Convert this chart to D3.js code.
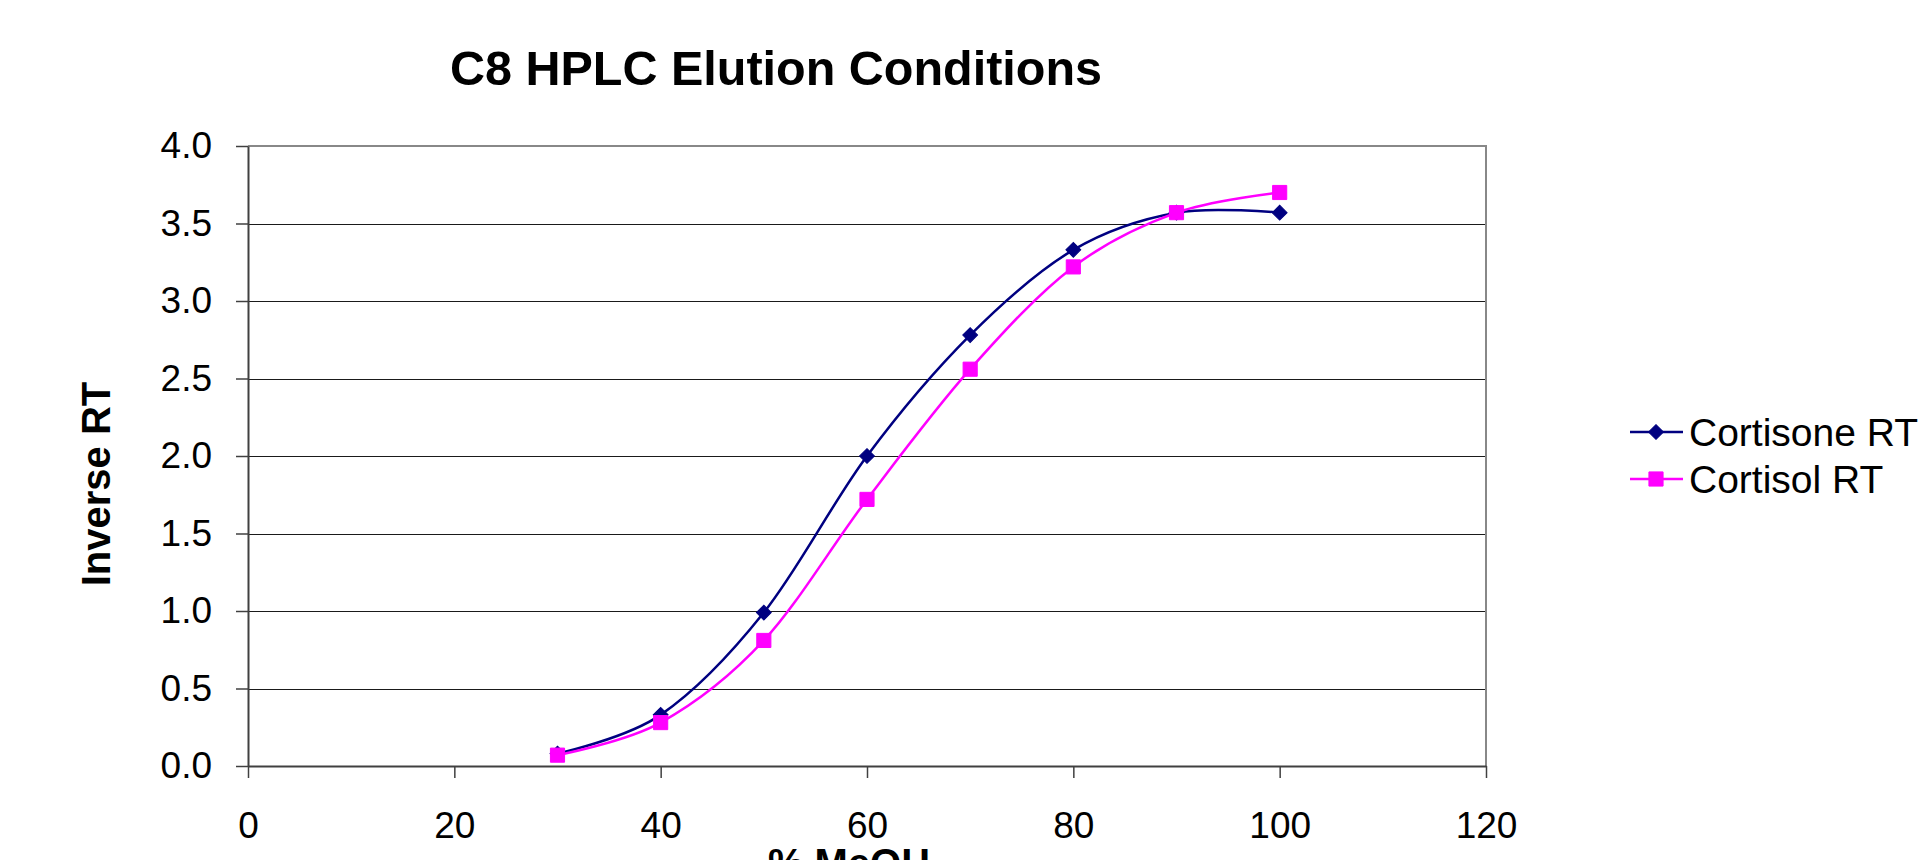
<!DOCTYPE html>
<html>
<head>
<meta charset="utf-8">
<script src="https://cdn.jsdelivr.net/npm/d3@7"></script>
<style>
  html, body { margin: 0; padding: 0; background: #fff; overflow: hidden; }
  svg { display: block; font-family: "Liberation Sans", Arial, sans-serif; }
</style>
</head>
<body>
<svg id="chart" width="1919" height="860"></svg>
<script>
// ---- data ----
const title = "C8 HPLC Elution Conditions";
const xLabel = "% MeOH";
const yLabel = "Inverse RT";
const meohPercent = [30, 40, 50, 60, 70, 80, 90, 100];
const cortisoneRT = [0.08, 0.33, 0.99, 2.00, 2.78, 3.33, 3.57, 3.57];
const cortisolRT  = [0.07, 0.28, 0.81, 1.72, 2.56, 3.22, 3.57, 3.70];
const seriesNames = ["Cortisone RT", "Cortisol RT"];
const xTicks = [0, 20, 40, 60, 80, 100, 120];
const yTicks = [0, 0.5, 1.0, 1.5, 2.0, 2.5, 3.0, 3.5, 4.0];

// ---- layout ----
const svg = d3.select("#chart");
const plot = { left: 248, right: 1486, top: 146, bottom: 766 };
const x = d3.scaleLinear().domain([0, 120]).range([plot.left, plot.right]);
const y = d3.scaleLinear().domain([0, 4]).range([plot.bottom, plot.top]);

// gridlines
svg.append("g")
  .selectAll("line")
  .data(yTicks.filter(d => d > 0 && d < 4))
  .join("line")
  .attr("x1", plot.left).attr("x2", plot.right)
  .attr("y1", d => Math.round(y(d)) + 0.5).attr("y2", d => Math.round(y(d)) + 0.5)
  .attr("stroke", "#1a1a1a").attr("stroke-width", 1.2);

// plot border (top & right) grey
svg.append("path")
  .attr("d", `M${plot.left},${plot.top}H${plot.right}V${plot.bottom}`)
  .attr("fill", "none").attr("stroke", "#888").attr("stroke-width", 2);

// axes
const tickFont = 37;
const xAxis = svg.append("g")
  .attr("transform", `translate(0,${plot.bottom})`)
  .call(d3.axisBottom(x).tickValues(xTicks).tickFormat(d3.format("d")).tickSize(12).tickPadding(34).tickSizeOuter(0));
const yAxis = svg.append("g")
  .attr("transform", `translate(${plot.left},0)`)
  .call(d3.axisLeft(y).tickValues(yTicks).tickFormat(d3.format(".1f")).tickSize(12).tickPadding(24).tickSizeOuter(0));
[xAxis, yAxis].forEach(g => {
  g.select(".domain").attr("stroke", "#404040").attr("stroke-width", 2);
  g.selectAll(".tick line").attr("stroke", "#404040").attr("stroke-width", 1.5);
  g.selectAll(".tick text").attr("fill", "#000").style("font-size", tickFont + "px")
    .style("font-family", '"Liberation Sans", Arial, sans-serif');
});

// titles
svg.append("text")
  .attr("x", 776).attr("y", 85)
  .attr("text-anchor", "middle")
  .style("font-size", "48.5px").style("font-weight", "bold")
  .text(title);
svg.append("text")
  .attr("transform", "translate(110,484) rotate(-90)")
  .attr("text-anchor", "middle")
  .style("font-size", "40px").style("font-weight", "bold")
  .text(yLabel);
svg.append("text")
  .attr("x", 849).attr("y", 877)
  .attr("text-anchor", "middle")
  .style("font-size", "40px").style("font-weight", "bold")
  .text(xLabel);

// series
const series = [
  { name: seriesNames[0], values: cortisoneRT, color: "#000080", marker: d3.symbolSquare, size: 110, rotate: 45 },
  { name: seriesNames[1], values: cortisolRT, color: "#FF00FF", marker: d3.symbolSquare, size: 200, rotate: 0 }
];
const line = d3.line()
  .x(d => x(d[0])).y(d => y(d[1]))
  .curve(d3.curveCardinal.tension(0));

series.forEach(s => {
  const pts = meohPercent.map((m, i) => [m, s.values[i]]);
  const g = svg.append("g");
  g.append("path").attr("d", line(pts))
    .attr("fill", "none").attr("stroke", s.color).attr("stroke-width", 2.5);
  g.selectAll("path.m").data(pts).join("path").attr("class", "m")
    .attr("transform", d => `translate(${x(d[0])},${y(d[1])}) rotate(${s.rotate})`)
    .attr("d", d3.symbol().type(s.marker).size(s.size))
    .attr("fill", s.color).attr("stroke", s.color).attr("stroke-width", 1);
});

// legend
const legend = svg.append("g");
series.forEach((s, i) => {
  const cy = 432 + i * 47;
  legend.append("line").attr("x1", 1630).attr("x2", 1683).attr("y1", cy).attr("y2", cy)
    .attr("stroke", s.color).attr("stroke-width", 2.5);
  legend.append("path").attr("transform", `translate(1656,${cy}) rotate(${s.rotate})`)
    .attr("d", d3.symbol().type(s.marker).size(s.size)).attr("fill", s.color)
    .attr("stroke", s.color).attr("stroke-width", 1);
  legend.append("text").attr("x", 1689).attr("y", cy + 14)
    .style("font-size", "39px").text(s.name);
});
</script>
</body>
</html>
